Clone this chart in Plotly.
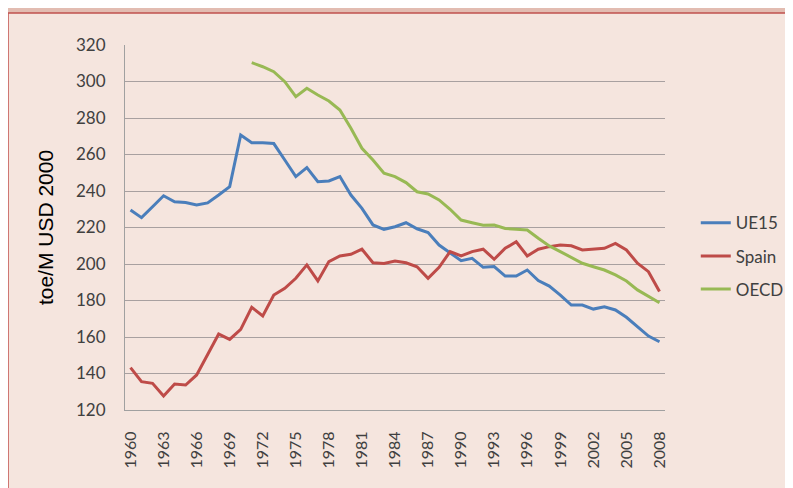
import plotly.graph_objects as go

years = list(range(1960, 2009))

ue15 = [229.6, 225.4, 231.4, 237.4, 234.1, 233.7, 232.3, 233.5, 237.8, 242.4,
        270.7, 266.5, 266.5, 266.0, 257.0, 247.9, 252.8, 245.1, 245.5, 247.9,
        237.8, 230.5, 221.4, 219.0, 220.4, 222.6, 219.3, 217.2, 210.4, 205.9,
        201.8, 203.1, 198.2, 198.6, 193.4, 193.4, 196.7, 190.9, 187.9, 183.0,
        177.5, 177.5, 175.3, 176.6, 174.8, 170.8, 165.6, 160.5, 157.4]

spain = [143.2, 135.5, 134.6, 127.7, 134.2, 133.7, 139.2, 150.1, 161.6, 158.7,
         164.2, 176.3, 171.5, 183.0, 186.7, 192.2, 199.5, 190.7, 201.3, 204.4,
         205.3, 208.1, 200.7, 200.3, 201.6, 200.7, 198.5, 192.2, 198.2, 206.8,
         204.4, 206.8, 208.1, 202.6, 208.6, 212.2, 204.4, 208.1, 209.5, 210.4,
         210.0, 207.7, 208.1, 208.6, 211.3, 207.7, 200.4, 195.8, 184.9]

oecd_years = list(range(1971, 2009))
oecd = [310.3, 308.1, 305.4, 299.9, 291.7, 296.3, 292.6, 289.3, 284.4, 274.4,
        263.4, 257.0, 249.7, 247.9, 244.6, 239.6, 238.4, 235.1, 230.0, 224.1,
        222.6, 221.2, 221.4, 219.5, 219.0, 218.6, 214.1, 209.9, 206.8, 203.7,
        200.4, 198.5, 196.7, 194.0, 190.7, 185.8, 182.5, 178.8]

tick_years = [1960, 1963, 1966, 1969, 1972, 1975, 1978, 1981, 1984, 1987,
              1990, 1993, 1996, 1999, 2002, 2005, 2008]
y_ticks = [120, 140, 160, 180, 200, 220, 240, 260, 280, 300, 320]

fig = go.Figure()
fig.add_trace(go.Scatter(x=years, y=ue15, name="UE15", mode="lines",
                         line=dict(color="#4a7ebb", width=3), legendgroup="a"))
fig.add_trace(go.Scatter(x=years, y=spain, name="Spain", mode="lines",
                         line=dict(color="#be4b48", width=3), legendgroup="b"))
fig.add_trace(go.Scatter(x=oecd_years, y=oecd, name="OECD", mode="lines",
                         line=dict(color="#98b954", width=3), legendgroup="c"))

fig.update_layout(
    width=793, height=488,
    margin=dict(l=117, r=136, t=37, b=86),
    paper_bgcolor="#e2bcb1",
    plot_bgcolor="rgba(0,0,0,0)",
    font=dict(family="Lato", color="#404040", size=16),
    showlegend=True,
    legend=dict(x=1.057, y=0.561, xanchor="left", yanchor="top",
                bgcolor="rgba(0,0,0,0)", font=dict(size=17, color="#404040"),
                tracegroupgap=8),
    shapes=[dict(type="rect", xref="paper", yref="paper",
                 x0=-0.2167, x1=2.0, y0=-1.0, y1=1.0877,
                 fillcolor="#f5e5de", line=dict(color="#c0504d", width=1.5),
                 layer="below")],
)

fig.update_xaxes(range=[1959.5, 2008.5], tickmode="array", tickvals=tick_years,
                 ticktext=[str(t) for t in tick_years], tickangle=-90,
                 showgrid=False, zeroline=False, showline=True,
                 linecolor="#a0a0a0", linewidth=1, ticks="",
                 ticklabelstandoff=14, tickfont=dict(size=16))
fig.update_yaxes(range=[120, 320], tickmode="array", tickvals=y_ticks,
                 showgrid=True, gridcolor="#a8a0a0", gridwidth=1,
                 zeroline=False, showline=True, linecolor="#a0a0a0", linewidth=1,
                 ticks="", ticklabelstandoff=15, tickfont=dict(size=17),
                 title=dict(text="toe/M USD 2000", standoff=16,
                            font=dict(family="Liberation Sans", size=21, color="#000000")))

fig.write_html("out.html")
